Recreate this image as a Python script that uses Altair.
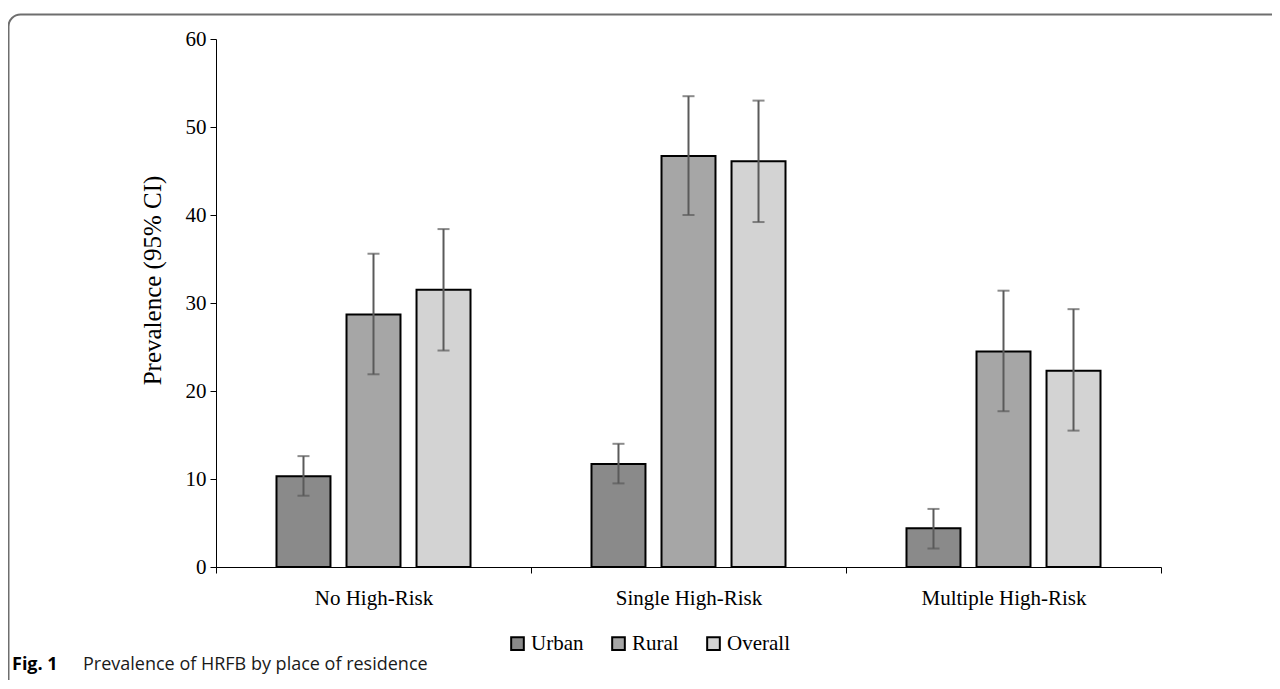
import altair as alt
import pandas as pd

categories = ["No High-Risk", "Single High-Risk", "Multiple High-Risk"]
groups = ["Urban", "Rural", "Overall"]

urban = [10.3, 11.7, 4.4]
urban_lo = [8.1, 9.5, 2.1]
urban_hi = [12.6, 14.0, 6.6]

rural = [28.7, 46.7, 24.5]
rural_lo = [21.9, 40.0, 17.7]
rural_hi = [35.6, 53.5, 31.4]

overall = [31.5, 46.1, 22.3]
overall_lo = [24.6, 39.2, 15.5]
overall_hi = [38.4, 53.0, 29.3]

y_ticks = [0, 10, 20, 30, 40, 50, 60]
colors = ["#8a8a8a", "#a6a6a6", "#d3d3d3"]

caption_bold = ["Fig. 1"]
caption_text = ["Prevalence of HRFB by place of residence"]

rows = []
for g, vals, los, his in [
    ("Urban", urban, urban_lo, urban_hi),
    ("Rural", rural, rural_lo, rural_hi),
    ("Overall", overall, overall_lo, overall_hi),
]:
    for c, v, lo, hi in zip(categories, vals, los, his):
        rows.append({"category": c, "group": g, "value": v, "lo": lo, "hi": hi})
df = pd.DataFrame(rows)

SERIF = "Liberation Serif"

x_enc = alt.X(
    "category:N",
    sort=categories,
    scale=alt.Scale(paddingInner=0, paddingOuter=0),
    axis=alt.Axis(
        title=None,
        tickBand="extent",
        labelAngle=0,
        labelFont=SERIF,
        labelFontSize=21,
        labelColor="black",
        labelPadding=14,
        domainColor="black",
        tickColor="black",
        tickSize=6,
        domainWidth=1,
    ),
)
xoff_enc = alt.XOffset(
    "group:N", sort=groups, scale=alt.Scale(paddingInner=0.229, paddingOuter=0.864)
)
y_scale = alt.Scale(domain=[0, 60], nice=False)

bars = alt.Chart(df).mark_bar(stroke="black", strokeWidth=2).encode(
    x=x_enc,
    xOffset=xoff_enc,
    y=alt.Y(
        "value:Q",
        scale=y_scale,
        axis=alt.Axis(
            values=y_ticks,
            title="Prevalence (95% CI)",
            grid=False,
            labelFont=SERIF,
            labelFontSize=21,
            labelColor="black",
            labelPadding=4,
            tickSize=6,
            tickColor="black",
            domainColor="black",
            titleFont=SERIF,
            titleFontSize=25,
            titleFontWeight="normal",
            titleColor="black",
            titlePadding=20,
            titleY=241,
        ),
    ),
    fill=alt.Fill(
        "group:N",
        sort=groups,
        scale=alt.Scale(domain=groups, range=colors),
        legend=alt.Legend(
            orient="none",
            legendX=291,
            legendY=594,
            direction="horizontal",
            title=None,
            symbolType="square",
            symbolSize=160,
            symbolStrokeColor="black",
            symbolStrokeWidth=2,
            labelFont=SERIF,
            labelFontSize=21,
            labelColor="black",
            labelOffset=3,
            columnPadding=24,
        ),
    ),
)

err_color = "#5a5a5a"
rules = alt.Chart(df).mark_rule(color=err_color, strokeWidth=2).encode(
    x=alt.X("category:N", sort=categories),
    xOffset=alt.XOffset("group:N", sort=groups),
    y=alt.Y("lo:Q", scale=y_scale),
    y2="hi:Q",
)
caps_lo = alt.Chart(df).mark_tick(
    color=err_color, orient="horizontal", size=12, thickness=2
).encode(
    x=alt.X("category:N", sort=categories),
    xOffset=alt.XOffset("group:N", sort=groups),
    y=alt.Y("lo:Q", scale=y_scale),
)
caps_hi = alt.Chart(df).mark_tick(
    color=err_color, orient="horizontal", size=12, thickness=2
).encode(
    x=alt.X("category:N", sort=categories),
    xOffset=alt.XOffset("group:N", sort=groups),
    y=alt.Y("hi:Q", scale=y_scale),
)

frame = alt.Chart(pd.DataFrame({"k": [0]})).mark_rect(
    fill="transparent", stroke="#6e6e6e", strokeWidth=2, cornerRadius=12
).encode(
    x=alt.value(-207.5),
    x2=alt.value(1300),
    y=alt.value(-24.5),
    y2=alt.value(900),
)

cap1 = alt.Chart(pd.DataFrame({"t": caption_bold})).mark_text(
    font="Open Sans", fontSize=18, fontWeight="bold", align="left",
    baseline="middle", color="black"
).encode(x=alt.value(-204), y=alt.value(626), text="t:N")
cap2 = alt.Chart(pd.DataFrame({"t": caption_text})).mark_text(
    font="Open Sans", fontSize=18, align="left", baseline="middle", color="#1a1a1a"
).encode(x=alt.value(-133), y=alt.value(626), text="t:N")

chart = (
    alt.layer(frame, bars, rules, caps_lo, caps_hi, cap1, cap2)
    .properties(
        width=945,
        height=528,
        padding={"left": 208, "top": 31, "right": 111, "bottom": 113},
        autosize=alt.AutoSizeParams(type="none"),
    )
    .configure_view(stroke=None)
)

chart.save("out.html", embed_options={"renderer": "svg", "actions": False})
